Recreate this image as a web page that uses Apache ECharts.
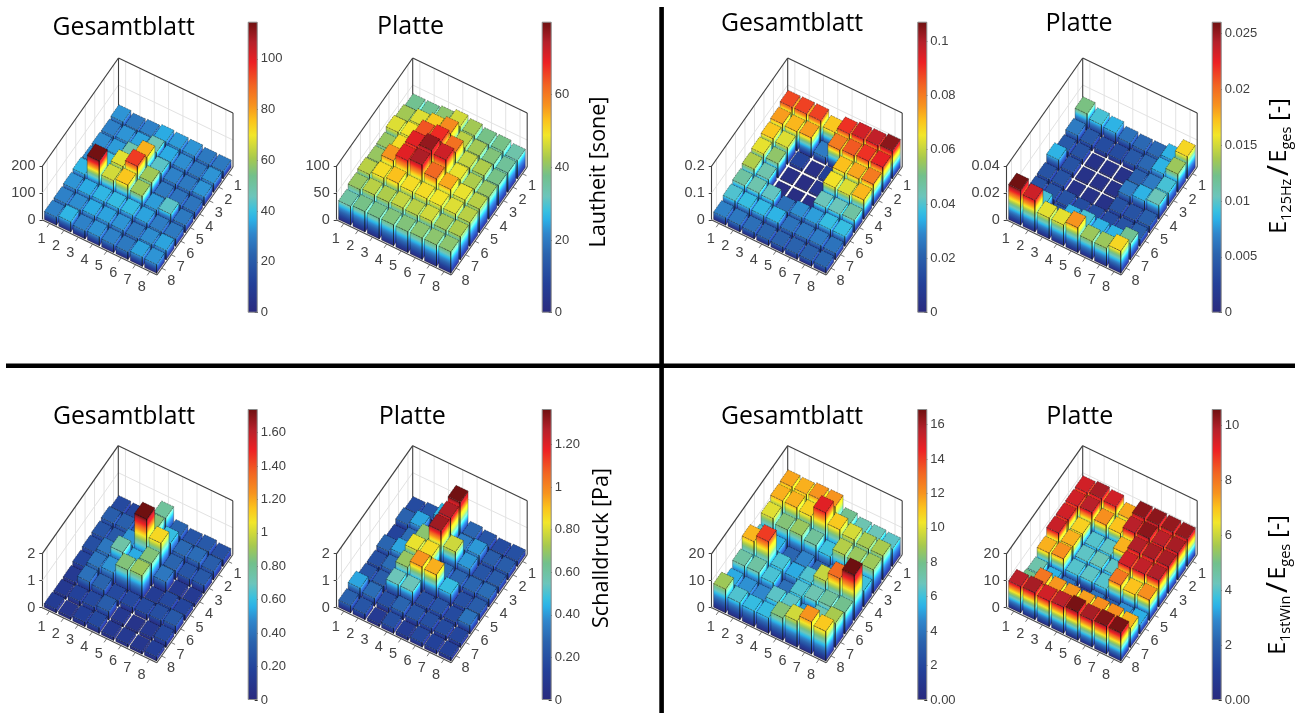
<!DOCTYPE html>
<html><head><meta charset="utf-8">
<style>html,body{margin:0;padding:0;background:#fff}#c{width:1298px;height:713px}</style>
<script src="https://cdn.jsdelivr.net/npm/echarts@6/dist/echarts.min.js"></script>
</head><body><div id="c"></div>
<script>
// ---------- data: rows are the right-hand axis (1..8), columns the left-hand axis (1..8)
const categories = [1,2,3,4,5,6,7,8];
const lautheitGesamt = [
 [33,28,30,36,34,33,28,28],[30,33,35,46,36,32,28,33],[32,34,48,78,44,30,28,33],[32,40,68,95,60,28,27,27],
 [38,114,66,75,60,34,44,28],[33,36,38,39,39,35,29,28],[30,32,36,35,33,28,32,35],[30,38,30,33,30,28,35,33]];
const lautheitPlatte = [
 [37,37,40,46,42,38,38,34],[42,47,52,58,44,42,39,36],[47,49,64,68,61,45,43,38],[41,50,70,77,72,48,43,41],
 [41,57,70,75,62,55,48,44],[44,50,53,50,50,49,47,44],[41,44,43,45,44,46,42,43],[35,38,38,39,39,40,40,40]];
const e125Gesamt = [
 [.087,.088,.088,.07,.09,.096,.098,.104],[.075,.072,.075,.027,.08,.085,.09,.093],[.07,.063,.012,.003,.01,.071,.074,.08],
 [.064,.054,.003,.002,.006,.066,.063,.072],[.058,.045,.002,.002,.002,.043,.043,.047],[.047,.045,.042,.024,.03,.032,.037,.037],
 [.04,.037,.036,.035,.025,.026,.027,.025],[.028,.026,.024,.022,.021,.021,.021,.022]];
const e125Platte = [
 [.0125,.0095,.0085,.006,.0055,.0055,.0085,.0165],[.0065,.0045,.0035,.0035,.0045,.0055,.0085,.0135],
 [.0045,.004,.001,.001,.001,.005,.0065,.0095],[.0085,.004,.001,.001,.001,.0065,.0085,.0105],
 [.004,.004,.001,.001,.001,.004,.004,.005],[.004,.004,.004,.0035,.0035,.0035,.004,.005],
 [.004,.0095,.004,.0085,.0095,.0085,.0085,.012],[.026,.0235,.0155,.0155,.0185,.0135,.0135,.0165]];
const schallGesamt = [
 [.22,.2,.3,.78,.35,.28,.3,.25],[.32,.33,.3,.85,.6,.37,.38,.32],[.28,.3,.5,1.74,1.1,.35,.28,.3],[.25,.42,.75,.55,.85,.42,.13,.13],
 [.2,.42,.5,.85,.9,.14,.22,.2],[.13,.4,.35,.22,.22,.22,.25,.3],[.12,.18,.22,.32,.12,.08,.12,.22],[.14,.1,.17,.22,.12,.12,.1,.16]];
const schallPlatte = [
 [.18,.22,.45,1.36,.28,.22,.18,.2],[.27,.42,.3,1.28,.35,.4,.25,.25],[.15,.3,.68,1.3,.78,.4,.22,.25],[.28,.42,.82,.85,.3,.28,.28,.3],
 [.2,.3,.7,.97,.93,.47,.2,.25],[.22,.25,.55,.55,.2,.22,.18,.32],[.42,.3,.2,.28,.22,.2,.18,.16],[.27,.22,.1,.2,.12,.17,.14,.14]];
const e1stGesamt = [
 [11.7,11.5,12,12,7.9,7,6.8,6.5],[11.5,11.5,10.8,14.8,11,9.8,9,9],[10,8.3,8.7,7.6,6,9.2,8.7,8.8],[6.5,5.5,3.5,4.5,3.5,4.5,5,6],
 [11.4,14,6.2,5.3,6.3,9.5,13,16.9],[7.4,7.4,6.2,3.8,6.3,7,7.6,7.9],[5.3,4.8,4.6,6.5,6.5,5,7,9],[8.8,6.3,5.8,5.8,8.3,9.7,12,11]];
const e1stPlatte = [
 [9.5,10,9.5,7.3,10.3,10.3,10.2,10.2],[9.5,9.8,7.6,7,9.8,10.3,9.8,10],[9.5,6.8,4,4.1,7.2,9.9,10,10],[9.6,7.2,4.1,4.3,4.1,9.5,9.7,9.9],
 [7.2,7.6,4,4.1,4,8,7,7.6],[4.5,3.5,2.5,1.2,2.5,2,3,3.4],[5,8,7.5,7.5,7.4,7.6,7.6,7.2],[9.8,10,9.5,9.8,10.5,10,10.4,10.5]];
const ticksA = ['0','20','40','60','80','100'], ticksB = ['0','20','40','60'];
const ticksC = ['0','0.02','0.04','0.06','0.08','0.1'], ticksD = ['0','0.005','0.01','0.015','0.02','0.025'];
const ticksE = ['0','0.20','0.40','0.60','0.80','1','1.20','1.40','1.60'], ticksF = ['0','0.20','0.40','0.60','0.80','1','1.20'];
const ticksG = ['0.00','2','4','6','8','10','12','14','16'], ticksH = ['0.00','2','4','6','8','10'];

// ---------- layout
const TOP = 220, BOTTOM = 607.7, CB_TOP = 21.7, CB_BOT = 409;
const panels = [
 {name:'Gesamtblatt',values:lautheitGesamt,zMax:200,cMax:114.6,ticks:ticksA,left:42.5,base:TOP,cbLeft:247.7,cbTop:CB_TOP,tx:123.7,ty:40},
 {name:'Platte',values:lautheitPlatte,zMax:100,cMax:80,ticks:ticksB,left:336.7,base:TOP,cbLeft:541.7,cbTop:CB_TOP,tx:410.5,ty:39},
 {name:'Gesamtblatt',values:e125Gesamt,zMax:.2,cMax:.1071,ticks:ticksC,left:711.7,base:TOP,cbLeft:917.3,cbTop:CB_TOP,tx:792,ty:36},
 {name:'Platte',values:e125Platte,zMax:.04,cMax:.02606,ticks:ticksD,left:1006.7,base:TOP,cbLeft:1211.7,cbTop:CB_TOP,tx:1079,ty:36},
 {name:'Gesamtblatt',values:schallGesamt,zMax:2,cMax:1.741,ticks:ticksE,left:42.3,base:BOTTOM,cbLeft:247.7,cbTop:CB_BOT,tx:124,ty:429},
 {name:'Platte',values:schallPlatte,zMax:2,cMax:1.366,ticks:ticksF,left:336.7,base:BOTTOM,cbLeft:541.7,cbTop:CB_BOT,tx:412.3,ty:429},
 {name:'Gesamtblatt',values:e1stGesamt,zMax:20,cMax:16.9,ticks:ticksG,left:711.7,base:BOTTOM,cbLeft:917.3,cbTop:CB_BOT,tx:792,ty:429},
 {name:'Platte',values:e1stPlatte,zMax:20,cMax:10.6,ticks:ticksH,left:1006.7,base:BOTTOM,cbLeft:1211.7,cbTop:CB_BOT,tx:1079.7,ty:429}
];
const FLOOR_W = 114.5, Z_H = 54, CB_W = 10, CB_H = 291;
const SKEW_UY = 55/8, SKEW_VX = -76/8, SKEW_VY = 108/8;
const BAR_HALF = 0.42;
const AXIS_GREY = '#404040', LABEL_FONT = 'Liberation Sans', TITLE_FONT = 'Open Sans';

const cmap = [[0,'#2a2a7e'],[.10,'#234099'],[.20,'#2a63ae'],[.27,'#2f85cb'],[.32,'#2bb0e6'],[.35,'#38c0e0'],
 [.40,'#6cc5bb'],[.47,'#72c08c'],[.53,'#a6c94f'],[.61,'#f2e629'],[.66,'#fbc31c'],[.71,'#f7941e'],[.78,'#f26522'],
 [.86,'#ed2024'],[.93,'#b5202a'],[1,'#6e1010']];
function colorAt(f){
  f = Math.max(0,Math.min(1,f));
  for(let i=1;i<cmap.length;i++){
    if(f<=cmap[i][0]){
      const a=cmap[i-1],b=cmap[i];
      return echarts.color.lerp((f-a[0])/(b[0]-a[0]),[a[1],b[1]]);
    }
  }
  return cmap[cmap.length-1][1];
}
function stopsTo(f,lift){
  const out=[];
  const t=c=>lift?echarts.color.lift(c,lift):c;
  for(const s of cmap){ if(s[0]<f) out.push({offset:s[0]/f,color:t(s[1])}); }
  out.push({offset:1,color:t(colorAt(f))});
  return out;
}
function faceFill(p0,p1,h,stops){
  let ex=p1[0]-p0[0],ey=p1[1]-p0[1];const L=Math.hypot(ex,ey);ex/=L;ey/=L;
  let nx=-ey,ny=ex; if(ny>0){nx=-nx;ny=-ny;}
  const d=h*Math.abs(ny);
  return {type:'linear',global:true,x:p0[0],y:p0[1],x2:p0[0]+nx*d,y2:p0[1]+ny*d,colorStops:stops};
}
// project through the panel's own axes: x from the u axis, y from the z axis, plus the oblique skew
function projector(api){
  return (u,v,z)=>{
    const c=api.coord([u,z]);
    return [c[0]+(v-8.5)*SKEW_VX, c[1]+(u-.5)*SKEW_UY+(v-8.5)*SKEW_VY];
  };
}
function renderBars(p){
  return (params,api)=>{
    const P=projector(api), u=api.value(0), v=api.value(1), val=api.value(2), w=BAR_HALF;
    const f=val/p.cMax;
    const a0=P(u-w,v+w,0),b0=P(u+w,v+w,0),c0=P(u+w,v-w,0);
    const a1=P(u-w,v+w,val),b1=P(u+w,v+w,val),c1=P(u+w,v-w,val),d1=P(u-w,v-w,val);
    const h=a0[1]-a1[1];
    const edge={stroke:'rgba(5,5,5,.6)',lineWidth:.5};
    return {type:'group',children:[
      {type:'polygon',shape:{points:[a0,b0,b1,a1]},style:Object.assign({fill:h>.2?faceFill(a0,b0,h,stopsTo(f,0)):colorAt(f)},edge),silent:true},
      {type:'polygon',shape:{points:[b0,c0,c1,b1]},style:Object.assign({fill:h>.2?faceFill(b0,c0,h,stopsTo(f,-.3)):colorAt(f)},edge),silent:true},
      {type:'line',shape:{x1:b0[0],y1:b0[1],x2:b1[0],y2:b1[1]},style:{stroke:'rgba(0,0,0,.7)',lineWidth:.8},silent:true},
      {type:'polygon',shape:{points:[a1,b1,c1,d1]},style:{fill:colorAt(f),stroke:'rgba(5,5,5,.6)',lineWidth:.6,lineDash:[2,1]},silent:true}
    ]};
  };
}
function renderBox(p){
  return (params,api)=>{
    const P=projector(api), ch=[];
    const line=(a,b,s,lw)=>ch.push({type:'line',shape:{x1:a[0],y1:a[1],x2:b[0],y2:b[1]},style:{stroke:s,lineWidth:lw},silent:true});
    const z=p.zMax, LO=.5, HI=8.5, GRID='#e2e2e2', EDGE='#404040';
    categories.forEach(t=>{
      line(P(t,LO,0),P(t,LO,z),GRID,1);
      line(P(LO,t,0),P(LO,t,z),GRID,1);
    });
    line(P(LO,LO,z/2),P(HI,LO,z/2),GRID,1);
    line(P(LO,LO,z/2),P(LO,HI,z/2),GRID,1);
    line(P(LO,LO,0),P(HI,LO,0),GRID,1);
    line(P(LO,LO,0),P(LO,HI,0),GRID,1);
    line(P(LO,LO,0),P(LO,LO,z),EDGE,1.1);
    line(P(HI,LO,0),P(HI,LO,z),EDGE,1.1);
    line(P(LO,HI,z),P(LO,LO,z),EDGE,1.2);
    line(P(LO,LO,z),P(HI,LO,z),EDGE,1.2);
    line(P(LO,HI,0),P(HI,HI,0),'#4a4a4a',1.1);
    line(P(HI,HI,0),P(HI,LO,0),'#4a4a4a',1.1);
    const font='14.5px "'+LABEL_FONT+'"';
    categories.forEach(t=>{
      const a=P(t,HI,0), b=P(t,HI+.28,0), c=P(HI,t,0), d=P(HI+.28,t,0);
      line(a,b,'#555',.8); line(c,d,'#555',.8);
      ch.push({type:'text',x:a[0]-8,y:a[1]+15.5,silent:true,style:{text:String(t),fill:'#444',font:font,align:'center',textAlign:'center',verticalAlign:'middle',textVerticalAlign:'middle'}});
      ch.push({type:'text',x:c[0]+9.5,y:c[1]+12.5,silent:true,style:{text:String(t),fill:'#444',font:font,align:'center',textAlign:'center',verticalAlign:'middle',textVerticalAlign:'middle'}});
    });
    return {type:'group',children:ch};
  };
}

const grid=[],xAxis=[],yAxis=[],series=[],graphic=[];
panels.forEach((p,i)=>{
  grid.push({left:p.left,top:p.base-Z_H,width:FLOOR_W,height:Z_H});
  xAxis.push({gridIndex:i,type:'value',min:.5,max:8.5,show:false});
  yAxis.push({gridIndex:i,type:'value',min:0,max:p.zMax,interval:p.zMax/2,position:'left',splitLine:{show:false},
    axisLine:{show:true,lineStyle:{color:AXIS_GREY,width:1.1}},axisTick:{show:true,length:3,lineStyle:{color:AXIS_GREY}},
    axisLabel:{color:'#444',fontSize:14.5,fontFamily:LABEL_FONT,margin:7,formatter:v=>String(+v.toFixed(4))}});
  series.push({type:'custom',name:p.name+' box',xAxisIndex:i,yAxisIndex:i,data:[[1,0]],encode:{x:0,y:1},silent:true,z:1,renderItem:renderBox(p)});
  const cells=[];
  categories.forEach((v,r)=>categories.forEach((u,c)=>cells.push([u,v,p.values[r][c]])));
  cells.sort((a,b)=>(a[0]+a[1])-(b[0]+b[1]));
  series.push({type:'custom',name:p.name,xAxisIndex:i,yAxisIndex:i,data:cells,encode:{x:0,y:2},silent:true,z:2,clip:false,renderItem:renderBars(p)});
  const size=p.name==='Platte'?25:24.8;
  graphic.push({type:'text',x:p.tx,y:p.ty,silent:true,style:{text:p.name,fill:'#000',font:size+'px "'+TITLE_FONT+'"',align:'center',textAlign:'center',verticalAlign:'alphabetic',textVerticalAlign:'bottom'}});
});
panels.forEach((p,k)=>{
  const i=panels.length+k, tv=p.ticks.map(Number);
  grid.push({left:p.cbLeft,top:p.cbTop,width:CB_W,height:CB_H});
  xAxis.push({gridIndex:i,type:'category',data:['c'],show:false});
  yAxis.push({gridIndex:i,type:'value',min:0,max:p.cMax,position:'right',splitLine:{show:false},axisLine:{show:false},
    axisTick:{show:true,inside:true,length:3,customValues:tv,lineStyle:{color:'#333'}},
    axisLabel:{color:'#404040',fontSize:13,fontFamily:LABEL_FONT,margin:3,customValues:tv,formatter:v=>p.ticks[tv.indexOf(v)]||''}});
  series.push({type:'bar',name:p.name+' colorbar',xAxisIndex:i,yAxisIndex:i,data:[p.cMax],barWidth:'100%',silent:true,
    itemStyle:{borderColor:'#8a8a8a',borderWidth:1,color:{type:'linear',x:0,y:1,x2:0,y2:0,colorStops:cmap.map(s=>({offset:s[0],color:s[1]}))}}});
});
// quadrant dividers
graphic.push({type:'rect',shape:{x:659.3,y:7,width:4.6,height:706},style:{fill:'#000'},silent:true});
graphic.push({type:'rect',shape:{x:6,y:363.4,width:1289,height:4.6},style:{fill:'#000'},silent:true});
// rotated axis captions
const sideRich={e:{fontSize:23,fontFamily:TITLE_FONT,color:'#000'},s:{fontSize:14.5,fontFamily:TITLE_FONT,color:'#000',verticalAlign:'bottom',lineHeight:27},
  h:{fontSize:30,fontFamily:TITLE_FONT,color:'#000'},g:{fontSize:10,fontFamily:TITLE_FONT,color:'#000'}};
function side(text,x,y,rich){
  graphic.push({type:'text',x:x,y:y,rotation:Math.PI/2,silent:true,style:Object.assign({text:text,fill:'#000',font:'21.6px "'+TITLE_FONT+'"',align:'center',textAlign:'center',verticalAlign:'middle',textVerticalAlign:'middle'},rich?{rich:sideRich}:{})});
}
side('Lautheit [sone]',599,172);
side('Schalldruck [Pa]',602,548);
side('{e|E}{s|125Hz}{g| }{h|/}{g| }{e|E}{s|ges}{e| [-]}',1279,166,true);
side('{e|E}{s|1stWin}{g| }{h|/}{g| }{e|E}{s|ges}{e| [-]}',1278,585,true);

const chart=echarts.init(document.getElementById('c'),null,{renderer:'canvas'});
chart.setOption({animation:false,backgroundColor:'#fff',grid,xAxis,yAxis,series,graphic:{elements:graphic}});
</script></body></html>
